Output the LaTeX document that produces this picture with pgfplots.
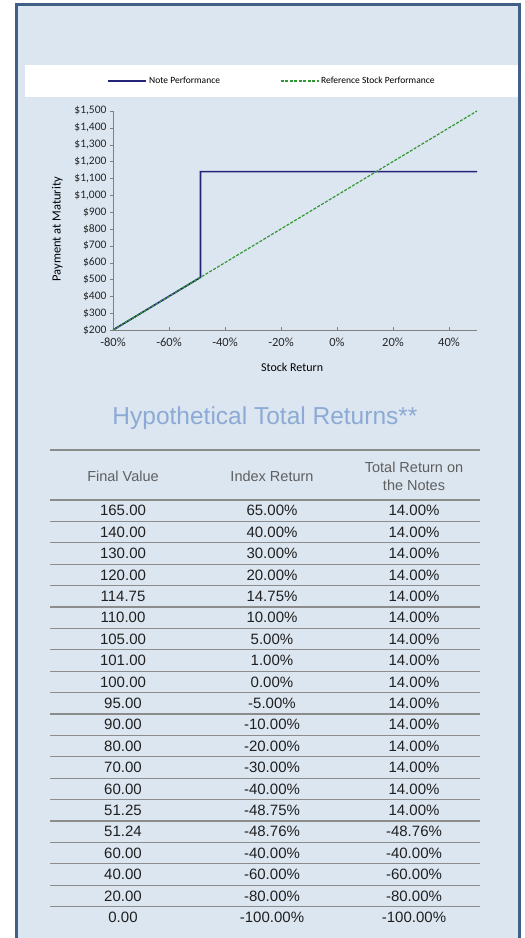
\documentclass[border=0pt]{standalone}
\usepackage{pgfplots}
\pgfplotsset{compat=1.18}
\usepackage{fontspec}
\setmainfont{Liberation Sans}
\newfontfamily\chartfont{Carlito}
\definecolor{bgblue}{RGB}{220,230,241}
\definecolor{framecol}{RGB}{65,95,135}
\definecolor{navy}{RGB}{35,35,120}
\definecolor{refgreen}{RGB}{50,150,50}
\definecolor{titlecol}{RGB}{140,170,212}
\definecolor{rulegray}{RGB}{140,140,140}
\definecolor{headgray}{RGB}{95,95,95}
\begin{document}
\begin{tikzpicture}[x=1pt,y=1pt]
\useasboundingbox (0,0) rectangle (525,938);
\clip (0,0) rectangle (525,938);
\fill[white] (0,0) rectangle (525,938);
\fill[bgblue] (16.5,-5) rectangle (519.5,933);
\draw[framecol, line width=3pt] (16.5,-5) rectangle (519.5,933);
\fill[white] (25,841) rectangle (518,873);

\begin{axis}[
  at={(113pt,608pt)}, anchor=south west,
  scale only axis, width=364pt, height=219pt,
  xmin=-80, xmax=50, ymin=200, ymax=1500,
  axis x line=bottom, axis y line=left,
  axis line style={draw=gray, -},
  xtick={-80,-60,-40,-20,0,20,40},
  xticklabels={-80\%,-60\%,-40\%,-20\%,0\%,20\%,40\%},
  ytick={200,300,400,500,600,700,800,900,1000,1100,1200,1300,1400,1500},
  yticklabels={\$200,\$300,\$400,\$500,\$600,\$700,\$800,\$900,\$1{,}000,\$1{,}100,\$1{,}200,\$1{,}300,\$1{,}400,\$1{,}500},
  yticklabel style={font=\chartfont\fontsize{11.5}{12}\selectfont, text=black!85},
  xticklabel style={font=\chartfont\fontsize{12.5}{13}\selectfont, text=black!85, yshift=-4pt},
  major tick length=3pt, tick style={gray},
  xtick align=inside, ytick align=outside,
  xlabel={Stock Return}, ylabel={Payment at Maturity},
  xlabel style={font=\chartfont\fontsize{12}{13}\selectfont, at={(axis description cs:0.492,-0.169)}, anchor=center},
  ylabel style={font=\chartfont\fontsize{12.5}{13}\selectfont, at={(axis description cs:-0.153,0.46)}, anchor=center, rotate=0},
  legend style={at={(axis description cs:0.437,1.137)}, anchor=center, draw=none, fill=none,
    legend columns=2, font=\chartfont\fontsize{9.5}{10}\selectfont,
    /tikz/every even column/.append style={column sep=58pt}},
  legend image code/.code={\draw[#1] (0pt,0pt) -- (38pt,0pt);},
]
\addplot[navy, line width=1.7pt] coordinates {(-80,200) (-48.75,512.5) (-48.75,1140) (50,1140)};
\addlegendentry{Note Performance}
\addplot[refgreen, line width=1.2pt, dash pattern=on 3pt off 1.5pt] coordinates {(-80,200) (50,1500)};
\addlegendentry{Reference Stock Performance}
\end{axis}

\node[text=titlecol, font=\fontsize{24.5}{26}\selectfont] at (265,520) {Hypothetical Total Returns**};

\draw[rulegray, line width=1.3pt] (50,488) -- (480,488);
\foreach \k in {0,...,19} {
  \draw[rulegray, line width=1.3pt] (50,{438-21.4*\k}) -- (480,{438-21.4*\k});
}
\begin{scope}[every node/.style={text=headgray, font=\fontsize{14.5}{18}\selectfont, align=center}]
\node at (123,462) {Final Value};
\node at (272,462) {Index Return};
\node at (414,462) {Total Return on\\the Notes};
\end{scope}
\foreach \a/\b/\c [count=\i from 0] in {
 165.00/65.00\%/14.00\%,
 140.00/40.00\%/14.00\%,
 130.00/30.00\%/14.00\%,
 120.00/20.00\%/14.00\%,
 114.75/14.75\%/14.00\%,
 110.00/10.00\%/14.00\%,
 105.00/5.00\%/14.00\%,
 101.00/1.00\%/14.00\%,
 100.00/0.00\%/14.00\%,
 95.00/-5.00\%/14.00\%,
 90.00/-10.00\%/14.00\%,
 80.00/-20.00\%/14.00\%,
 70.00/-30.00\%/14.00\%,
 60.00/-40.00\%/14.00\%,
 51.25/-48.75\%/14.00\%,
 51.24/-48.76\%/-48.76\%,
 60.00/-40.00\%/-40.00\%,
 40.00/-60.00\%/-60.00\%,
 20.00/-80.00\%/-80.00\%,
 0.00/-100.00\%/-100.00\%} {
  \node[text=black!88, font=\fontsize{15}{15}\selectfont] at (123,{427.3-21.4*\i}) {\a};
  \node[text=black!88, font=\fontsize{15}{15}\selectfont] at (272,{427.3-21.4*\i}) {\b};
  \node[text=black!88, font=\fontsize{15}{15}\selectfont] at (414,{427.3-21.4*\i}) {\c};
}
\end{tikzpicture}
\end{document}
